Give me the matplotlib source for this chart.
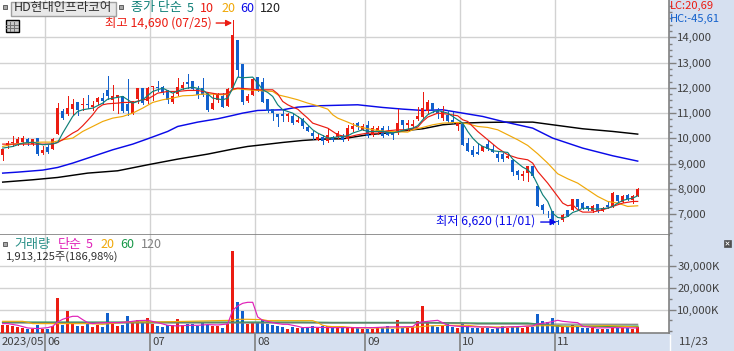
import matplotlib
matplotlib.use('Agg')
import matplotlib.pyplot as plt
from matplotlib.patches import Rectangle
from matplotlib.ticker import FuncFormatter, MultipleLocator
import numpy as np

plt.rcParams['font.family'] = ['Noto Sans CJK KR', 'DejaVu Sans']

opens = [9325,9681,9813,9813,9840,9971,9773,10010,9417,9654,9589,10169,11066,10974,11158,11435,
         11317,11369,11237,11422,11594,11897,11528,11580,11686,11369,11000,11554,11976,11462,12030,12030,
         12030,11897,11422,11765,11989,12213,12253,11950,11989,11791,11158,11528,11686,11290,11989,13902,
         12939,11462,11725,12424,12213,11567,11172,10974,10947,10868,10895,10644,10776,10433,10209,9945,
         10050,9879,10050,10050,10077,9971,10367,10604,10340,10525,10143,10275,10406,10275,10235,10209,
         10736,10512,10500,10763,10842,11066,11396,11066,10802,10934,10710,10472,10604,9813,9549,9457,
         9509,9773,9589,9391,9378,9233,9153,8692,8520,8626,8916,8098,7373,7100,7109,6740,
         6780,7148,7175,7597,7439,7307,7109,7412,7135,7373,7307,7769,7478,7769,7570,7729]
highs = [9589,9880,10103,10037,10100,10010,9971,10010,9680,9747,10010,11396,11158,11686,11554,11435,
         11593,11725,11462,11633,11791,12477,12121,11725,11686,12345,11462,11976,11976,12030,12080,12253,
         12080,11923,11791,12385,12213,12556,12253,12080,12385,11791,11765,11791,11791,11989,14690,13902,
         12939,11765,12385,12424,12385,11567,11172,10974,11132,11000,11000,10868,10802,10500,10275,10209,
         10143,10406,10077,10275,10169,10538,10604,10644,10565,10670,10500,10472,10472,10472,10275,11158,
         10736,10736,10710,11237,11818,11528,11396,11198,11264,11132,11040,10630,10604,10010,9707,9813,
         9707,9905,9721,9483,9417,9391,9180,8758,8692,8916,8916,8098,7412,7109,7109,6780,
         7003,7175,7597,7597,7478,7333,7360,7412,7267,7465,7874,7769,7769,7808,7742,8032]
lows = [9153,9620,9707,9747,9747,9747,9747,9350,9390,9430,9575,10169,10760,10934,10974,10934,
        11132,11198,11132,11369,11369,11554,11132,11000,11040,10934,10960,11396,11370,11396,11528,11857,
        11752,11396,11396,11725,11970,11989,11930,11593,11660,11066,11158,11422,11237,11290,11989,12451,
        11369,11422,11725,11857,11422,11026,10736,10500,10670,10670,10578,10630,10406,10275,9984,9918,
        9786,9840,9879,10010,9879,9945,10275,10380,10314,10050,10077,10182,10050,10116,9971,10182,
        10380,10340,10446,10736,10802,11000,11040,10802,10736,10644,10604,10340,9747,9483,9312,9378,
        9483,9549,9444,9087,9087,9206,8560,8402,8336,8296,8468,7307,7043,6885,6620,6620,
        6740,6910,7148,7175,7201,7149,7083,7095,7109,7241,7280,7490,7465,7570,7439,7703]
closes = [9589,9813,9840,9984,10010,9813,9971,9390,9549,9457,9971,11198,10802,11198,11369,11105,
          11369,11317,11330,11594,11462,11660,11660,11725,11066,11092,11462,11976,11396,11976,12080,11976,
          11818,11528,11660,12030,12121,12134,11950,11725,11725,11132,11396,11765,11237,11950,14100,12715,
          11422,11686,12345,11857,11422,11066,11000,10829,10868,10974,10604,10736,10472,10300,10077,10050,
          9879,10143,9918,10209,9945,10406,10472,10446,10500,10077,10406,10406,10077,10143,10143,10604,
          10538,10604,10578,10868,11198,11435,11105,11000,11026,10670,10630,10630,9747,9509,9351,9391,
          9681,9575,9457,9219,9180,9312,8665,8533,8586,8890,8494,7307,7148,7085,6647,6680,
          6977,6937,7597,7280,7241,7228,7333,7109,7241,7267,7834,7505,7703,7610,7703,7993]

volume = [3080,3080,2460,2150,1540,1080,1230,3080,1230,1230,2310,15380,3080,9380,3540,2460,
          2460,3540,2000,2770,2000,8460,3540,2460,3080,7080,4000,5080,4000,6150,3540,2310,
          2000,2770,2770,5690,2770,3540,3230,2310,4310,2770,2460,2310,1690,3540,37070,13530,
          9380,3540,4000,4000,5380,3540,3080,2460,2000,1230,2000,1540,1540,1540,2310,1690,
          2310,2460,1690,1540,2000,2000,1540,2000,1080,1230,1230,1540,1540,2460,1230,5230,
          1540,2000,2000,4770,11690,4000,2460,2000,2460,3540,2000,1690,3230,2310,1540,1690,
          1540,1690,1230,1690,2310,1690,2000,2000,1540,2000,2000,8000,4770,4150,6150,2770,
          2310,2000,2770,2310,1540,1540,1690,1230,1230,1230,1690,1690,1690,1690,1080,2000]

ma5_idx = [0,2,4,6,8,10,11,12,13,14,15,16,18,20,21,24,26,28,30,32,34,36,38,40,42,44,45,46,47,48,50,
           51,52,53,54,55,56,58,59,60,61,62,63,64,65,68,69,70,71,72,73,76,78,80,81,82,83,84,85,86,87,
           89,90,91,92,93,94,95,96,97,98,101,102,103,104,105,106,107,108,109,110,111,112,113,114,115,
           116,118,119,121,122,123,124,125,126,127]
ma5_val = [9615,9680,9813,9850,9747,9787,9840,10209,10538,10870,11066,11132,11198,11396,11554,11660,
           11396,11528,11857,11989,11791,11950,12030,11923,11593,11528,11593,11989,12425,12400,12425,
           12187,11923,11818,11660,11330,11132,11000,10868,10736,10538,10340,10209,10116,10010,10077,
           10103,10209,10275,10340,10275,10275,10209,10314,10367,10406,10500,10736,10934,11040,11105,
           11000,10868,10736,10604,10275,10010,9813,9681,9615,9509,9444,9180,9021,8863,8758,8560,8164,
           7769,7505,7043,6871,6845,6911,7069,7135,7241,7214,7201,7241,7307,7439,7544,7597,7636,7729]

ma10_idx = [0,10,11,12,13,14,15,16,17,18,19,20,21,23,24,26,28,29,31,33,35,37,39,41,43,45,46,47,49,
            51,54,55,56,57,58,59,60,61,62,63,65,66,67,69,71,73,75,77,79,81,83,84,85,87,89,91,92,93,
            95,97,99,101,103,105,106,107,109,110,111,112,113,114,115,116,118,120,122,124,126,127]
ma10_val = [9773,9773,9840,9945,10077,10209,10314,10499,10710,10934,11198,11330,11369,11396,11422,
            11422,11528,11554,11791,11857,11857,11897,11897,11818,11752,11765,11950,11989,11963,11923,
            11923,11765,11462,11330,11237,11158,10974,10802,10604,10538,10406,10275,10143,10050,10143,
            10209,10209,10300,10340,10340,10446,10670,10842,11000,10960,10894,10736,10670,10275,9945,
            9615,9351,9219,9153,9021,8692,8230,7966,7703,7439,7333,7373,7175,7083,7083,7175,7307,7439,
            7505,7505]

ma20_idx = [0,2,6,8,10,12,14,16,18,20,22,24,26,28,30,32,34,36,38,40,42,44,45,46,47,49,51,54,55,57,59,
            61,63,65,66,67,69,71,73,75,77,81,82,84,86,88,91,93,95,97,99,101,103,105,107,109,111,113,
            115,117,119,121,123,125,127]
ma20_val = [9681,9773,9839,9852,9852,9945,10011,10275,10472,10670,10802,10868,11000,11198,11422,11528,
            11594,11686,11699,11752,11752,11725,11752,11923,11963,11923,11897,11857,11725,11633,11528,
            11396,11290,11158,10934,10802,10644,10472,10380,10314,10275,10248,10340,10433,10538,10604,
            10631,10578,10472,10433,10340,10143,9945,9721,9391,9021,8600,8402,8230,7966,7703,7505,7439,
            7307,7333]

ma60_idx = [0,3,8,11,14,18,22,26,29,33,35,39,43,46,48,51,56,59,63,71,76,80,84,88,92,96,100,106,110,116,122,127]
ma60_val = [8626,8665,8745,8850,9022,9285,9549,9773,9984,10275,10472,10644,10776,10908,11000,11105,
            11132,11237,11290,11330,11224,11158,11105,11132,11000,10868,10670,10406,10011,9615,9312,9101]

ma120_idx = [0,6,11,17,23,29,35,41,46,49,52,56,60,64,68,73,78,82,84,88,92,96,101,106,110,116,122,127]
ma120_val = [8270,8362,8454,8626,8718,8955,9180,9378,9576,9681,9747,9839,9918,9971,9984,10143,10235,
             10340,10380,10538,10604,10631,10644,10644,10538,10380,10275,10169]

volma5_idx = [0,1,3,5,7,9,10,11,12,13,14,15,16,17,18,19,21,23,25,27,29,31,33,35,37,39,41,43,45,46,47,
              48,49,50,51,52,53,54,55,56,57,58,59,60,62,66,74,77,82,83,85,87,89,91,95,97,99,101,106,
              107,109,111,112,114,115,116,119,122,127]
volma5_val = [3540,3540,2770,1540,1230,1690,2310,4310,5540,6310,6920,6920,5380,4000,3540,3850,4000,4000,
              4310,4920,5080,4000,2770,2460,2770,2770,3080,2920,3380,9690,11690,12920,13380,13380,6610,
              5080,4610,4000,3540,3230,3230,2770,2310,1690,1850,1690,1690,2000,2150,4000,4610,5080,2770,
              2310,2000,2000,1540,2000,2460,3380,4000,5080,4610,4150,4000,2310,1540,1690,1540]

volma20_idx = [0,4,5,6,7,11,17,20,25,29,31,46,47,49,52,53,62,63,64,65,66,68,71,79,83,85,89,93,96,99,103,
               105,110,113,121,127]
volma20_val = [4610,4610,4150,3540,3540,3540,3540,3230,4310,4310,4310,5080,5540,5540,5380,4920,4920,4000,
               2770,2310,2150,2150,1540,1540,2000,2460,2770,2770,2000,2000,2000,2460,2615,2150,2615,2000]

volma60_idx = [0,20,40,60,66,85,95,105,112,127]
volma60_val = [4150,4150,4150,4150,4000,4000,3690,3690,2310,2310]

volma120_idx = [0,60,90,95,127]
volma120_val = [3850,3850,3850,3380,3230]

month_pos = [8.5, 29.5, 50.5, 72.5, 91.5, 110.5]
month_labels = ['06', '07', '08', '09', '10', '11']
price_ticks = [7000, 8000, 9000, 10000, 11000, 12000, 13000, 14000]
vol_ticks = [10000, 20000, 30000]

UP = '#EB1C12'
DOWN = '#1160CC'
TEAL = '#108078'
ORANGE = '#F0A808'
BLUE = '#0A0AE8'
BAND = '#D6E0F0'
GRID = '#D2D2D2'
EDGE = '#808080'
INK = '#404040'
VOL_FLOOR = -785

fig = plt.figure(figsize=(7.34, 3.51), dpi=100, facecolor=BAND)
W, H = 734.0, 351.0
ax = fig.add_axes([0, (H - 235) / H, 669 / W, 235 / H], facecolor='white')
axv = fig.add_axes([0, (H - 333) / H, 669 / W, 98 / H], facecolor='white')

x = np.arange(len(closes))
colors = [UP if c >= o else DOWN for o, c in zip(opens, closes)]
xlim = (-0.54, 133.26)

for a in (ax, axv):
    a.set_xlim(xlim)
    a.set_xticks(month_pos)
    a.grid(True, color=GRID, lw=1)
    a.set_axisbelow(True)
    a.yaxis.tick_right()
    for s in ('top', 'left'):
        a.spines[s].set_visible(False)
    for s in ('right', 'bottom'):
        a.spines[s].set_color(EDGE)
        a.spines[s].set_linewidth(1.2)
    a.tick_params(axis='y', which='major', length=5, width=1, color=EDGE, labelcolor=INK, labelsize=8.2, pad=1)
    a.tick_params(axis='y', which='minor', length=2.5, width=1, color=EDGE)

# main pane
ax.set_ylim(6177, 15476)
ax.set_yticks(price_ticks)
ax.yaxis.set_minor_locator(MultipleLocator(250))
ax.yaxis.set_major_formatter(FuncFormatter(lambda v, p: format(int(v), ',')))
ax.tick_params(axis='x', length=0, labelbottom=False)

ax.plot(ma120_idx, ma120_val, color='black', lw=1.05, zorder=2)
ax.plot(ma60_idx, ma60_val, color=BLUE, lw=1.05, zorder=2)
ax.vlines(x, lows, highs, color=colors, lw=0.72, zorder=3, antialiased=False)
ax.bar(x, np.array(closes) - np.array(opens), bottom=opens, width=0.66, color=colors, lw=0, zorder=3,
       antialiased=False)
ax.plot(ma20_idx, ma20_val, color=ORANGE, lw=0.85, zorder=4)
ax.plot(ma10_idx, ma10_val, color=UP, lw=0.85, zorder=4)
ax.plot(ma5_idx, ma5_val, color=TEAL, lw=0.85, zorder=4)

# high / low notes
hi = int(np.argmax(highs))
lo = int(np.argmin(lows))
ax.annotate('최고 14,690 (07/25)', (hi, highs[hi]), xytext=(-128, -3.5), textcoords='offset pixels',
            color=UP, fontsize=8.9, va='center', ha='left', zorder=6)
ax.annotate('', (hi - 0.1, highs[hi] - 125), xytext=(-16, 0), textcoords='offset pixels', zorder=6,
            arrowprops=dict(arrowstyle='-|>', color=UP, lw=1, shrinkA=0, shrinkB=0, mutation_scale=9))
ax.annotate('최저 6,620 (11/01)', (lo, lows[lo]), xytext=(-117, 3), textcoords='offset pixels',
            color=BLUE, fontsize=8.85, va='center', ha='left', zorder=6)
ax.annotate('', (lo + 0.8, lows[lo] + 70), xytext=(-16, 0), textcoords='offset pixels', zorder=6,
            arrowprops=dict(arrowstyle='-|>', color=BLUE, lw=1, shrinkA=0, shrinkB=0, mutation_scale=9))

# volume pane
axv.set_ylim(VOL_FLOOR, 44440)
axv.set_yticks(vol_ticks)
axv.yaxis.set_minor_locator(MultipleLocator(5000))
axv.yaxis.set_major_formatter(FuncFormatter(lambda v, p: format(int(v), ',') + 'K'))
axv.tick_params(axis='x', length=18, width=1.2, color=EDGE, labelbottom=False, zorder=1)
axv.bar(x, np.array(volume) - VOL_FLOOR, bottom=VOL_FLOOR, width=0.66, color=colors, lw=0, zorder=3,
        antialiased=False)
axv.plot(volma60_idx, volma60_val, color='#189848', lw=1.2, zorder=4)
axv.plot(volma120_idx, volma120_val, color='#808080', lw=0.85, zorder=4)
axv.plot(volma20_idx, volma20_val, color=ORANGE, lw=0.85, zorder=5)
axv.plot(volma5_idx, volma5_val, color='#E020B8', lw=0.85, zorder=6)

trans = axv.get_xaxis_transform()
axv.annotate('2023/05', (xlim[0], 0), xycoords=trans, xytext=(2, -9), textcoords='offset pixels',
             color=INK, fontsize=8.2, va='center', ha='left', annotation_clip=False)
for pos, lab in zip(month_pos, month_labels):
    axv.annotate(lab, (pos, 0), xycoords=trans, xytext=(2, -9), textcoords='offset pixels',
                 color=INK, fontsize=8.2, va='center', ha='left', annotation_clip=False)

# pixel overlay for the chart's header controls
top = fig.add_axes([0, 0, 1, 1], facecolor='none')
top.set_xlim(0, W)
top.set_ylim(H, 0)
top.axis('off')


def label(px, py, s, color=INK, size=9):
    top.text(px, py, s, color=color, fontsize=size, va='center', ha='left')


def square(px, py, size=4, face='#A8A8A8'):
    top.add_patch(Rectangle((px, py), size, size, fc=face, ec='#606060', lw=0.7))


square(3, 5)
top.add_patch(Rectangle((10.5, 1.5), 105, 14, fc='#E8E8E8', ec='#A0A0A0', lw=1))
label(14, 8, 'HD현대인프라코어', color='#303030', size=9)
square(119, 5)
label(131, 8, '종가 단순', color=TEAL, size=9.4)
label(187, 8, '5', color=TEAL)
label(200, 8, '10', color=UP)
label(221, 8, '20', color=ORANGE)
label(240, 8, '60', color=BLUE)
label(260, 8, '120', color='#202020')

# grid icon
top.add_patch(Rectangle((5.5, 19.5), 13, 12, fc='#C8C8C8', ec='black', lw=1))
top.plot([9.5, 9.5], [22, 31], color='#707070', lw=0.7)
top.plot([14, 14], [22, 31], color='#707070', lw=0.7)
top.plot([6, 18], [25, 25], color='#707070', lw=0.7)
top.plot([6, 18], [28, 28], color='#707070', lw=0.7)

label(670, 6, 'LC:20,69', color=UP, size=8)
label(670, 19, 'HC:-45,61', color=DOWN, size=8)

square(3, 242)
label(14, 244.5, '거래량', color='#2A9088', size=9.4)
label(58, 244.5, '단순', color='#E020B8', size=9.4)
label(86, 244.5, '5', color='#E020B8')
label(100, 244.5, '20', color=ORANGE)
label(120, 244.5, '60', color='#189848')
label(141, 244.5, '120', color='#808080')
label(6, 257, '1,913,125주(186,98%)', color='#303030', size=8.1)

# close button of the volume pane
top.add_patch(Rectangle((724, 240), 7, 7, fc='#505050', ec='#505050', lw=0.5))
top.plot([726, 729], [242, 245], color='white', lw=0.6)
top.plot([726, 729], [245, 242], color='white', lw=0.6)

top.plot([669.5, 669.5], [335, 351], color='white', lw=1)
label(679, 342, '11/23', size=8.2)

fig.savefig('out.png', dpi=100, facecolor=fig.get_facecolor())
plt.close()
